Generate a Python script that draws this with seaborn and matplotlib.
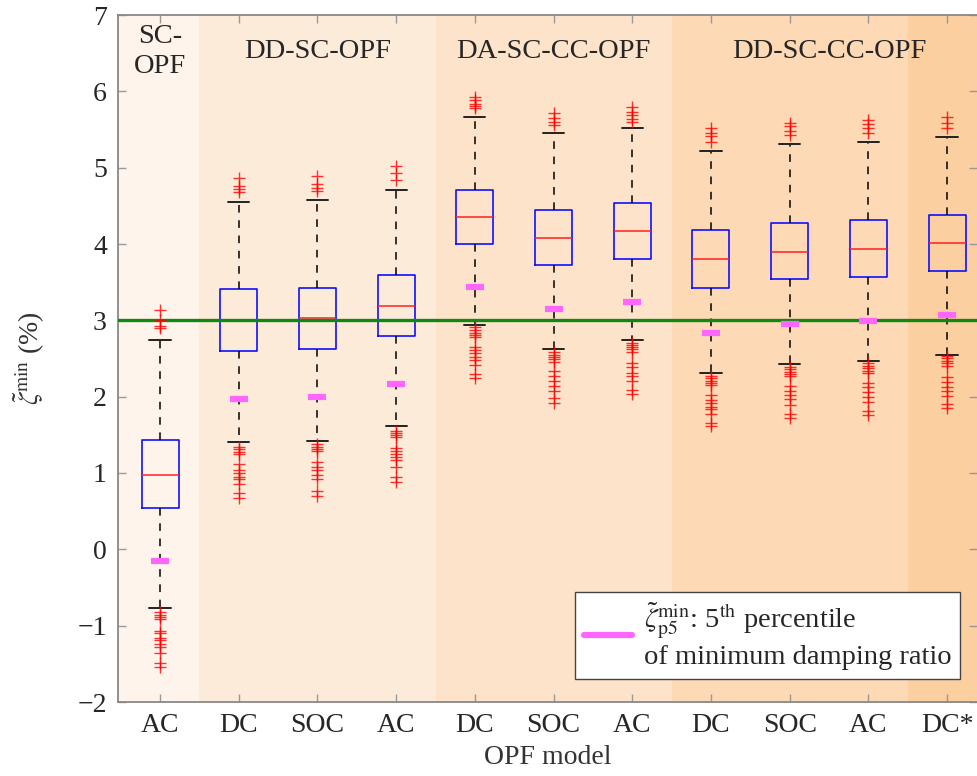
import numpy as np
import pandas as pd
import matplotlib
matplotlib.use("Agg")
import matplotlib.pyplot as plt
import seaborn as sns

# ---------------- data ----------------
categories = ["AC", "DC", "SOC", "AC", "DC", "SOC", "AC", "DC", "SOC", "AC", "DC*"]
q1 = [0.54, 2.60, 2.63, 2.80, 4.00, 3.72, 3.81, 3.43, 3.54, 3.57, 3.65]
med = [0.97, 3.00, 3.03, 3.19, 4.35, 4.08, 4.17, 3.80, 3.90, 3.94, 4.01]
q3 = [1.43, 3.41, 3.43, 3.59, 4.71, 4.45, 4.54, 4.18, 4.28, 4.31, 4.38]
whisk_lo = [-0.77, 1.40, 1.42, 1.61, 2.94, 2.63, 2.74, 2.31, 2.43, 2.47, 2.55]
whisk_hi = [2.74, 4.55, 4.57, 4.71, 5.67, 5.45, 5.52, 5.22, 5.31, 5.34, 5.40]
p5 = [-0.15, 1.97, 2.00, 2.17, 3.44, 3.15, 3.24, 2.84, 2.95, 2.99, 3.07]

outliers_hi = [
    [3.13, 3.01, 2.93, 2.90],
    [4.86, 4.76, 4.72, 4.68],
    [4.89, 4.79, 4.74, 4.70],
    [5.02, 4.93, 4.84],
    [5.93, 5.89, 5.84, 5.81, 5.78],
    [5.71, 5.65, 5.60, 5.56],
    [5.79, 5.73, 5.69, 5.64, 5.60],
    [5.52, 5.46, 5.41, 5.34],
    [5.59, 5.54, 5.48, 5.43],
    [5.62, 5.57, 5.52, 5.46],
    [5.66, 5.59, 5.52],
]
outliers_lo = [
    [-0.825, -0.86, -0.89, -0.917, -1.066, -1.10, -1.158, -1.188, -1.244, -1.276, -1.354, -1.485, -1.545],
    [1.345, 1.315, 1.279, 1.249, 1.118, 1.039, 0.996, 0.952, 0.921, 0.852, 0.734, 0.669],
    [1.376, 1.345, 1.315, 1.292, 1.148, 1.075, 1.039, 0.974, 0.918, 0.764, 0.699],
    [1.555, 1.528, 1.498, 1.476, 1.324, 1.288, 1.249, 1.214, 1.170, 1.075, 0.952, 0.886],
    [2.917, 2.874, 2.838, 2.808, 2.778, 2.655, 2.612, 2.568, 2.516, 2.481, 2.415, 2.297, 2.249],
    [2.58, 2.55, 2.52, 2.49, 2.46, 2.33, 2.27, 2.20, 2.14, 2.08, 1.98, 1.92],
    [2.707, 2.677, 2.647, 2.621, 2.589, 2.445, 2.385, 2.314, 2.271, 2.209, 2.088, 2.035],
    [2.271, 2.241, 2.209, 2.175, 2.153, 2.022, 1.957, 1.913, 1.869, 1.835, 1.769, 1.651, 1.616],
    [2.393, 2.359, 2.327, 2.297, 2.271, 2.140, 2.078, 2.022, 1.966, 1.891, 1.773, 1.717],
    [2.437, 2.402, 2.372, 2.340, 2.314, 2.183, 2.123, 2.065, 2.000, 1.934, 1.816, 1.760],
    [2.533, 2.503, 2.467, 2.437, 2.406, 2.262, 2.196, 2.131, 2.078, 2.013, 1.900, 1.848],
]
threshold = 3.0

group_names = ["SC-\nOPF", "DD-SC-OPF", "DA-SC-CC-OPF", "DD-SC-CC-OPF", ""]
group_spans = [(-1.0, 0.5), (0.5, 3.5), (3.5, 6.5), (6.5, 9.5), (9.5, 11.0)]
group_label_x = [0, 2, 5, 8.5, None]
group_colors = ["#FEF4EB", "#FDEBDA", "#FDE3CA", "#FDD9B5", "#FCCFA0"]

ylabel = r"$\tilde{\zeta}^{\min}$ (%)"
xlabel = "OPF model"
legend_label = r"$\tilde{\zeta}^{\min}_{\mathrm{p5}}$: 5$^{\mathrm{th}}$ percentile" + "\nof minimum damping ratio"

# ---------------- style ----------------
sns.set_style("ticks")
plt.rcParams["font.family"] = ["Liberation Serif", "DejaVu Serif"]
plt.rcParams["mathtext.fontset"] = "stix"
plt.rcParams["axes.unicode_minus"] = True

fig = plt.figure(figsize=(9.77, 7.76), dpi=100)
ax = fig.add_axes([118 / 977, 74 / 776, 859 / 977, 687 / 776])

positions = np.arange(len(categories))

# background bands
for (a, b), c in zip(group_spans, group_colors):
    ax.axvspan(a, b, color=c, zorder=0, lw=0)

# threshold line
ax.axhline(threshold, color="#118811", lw=2.4, zorder=3)

# boxes
stats = []
for i in range(len(categories)):
    stats.append(dict(med=med[i], q1=q1[i], q3=q3[i], whislo=whisk_lo[i],
                      whishi=whisk_hi[i], fliers=[], label=categories[i]))
ax.bxp(stats, positions=positions, widths=0.47, capwidths=0.27,
       showfliers=False, patch_artist=False, manage_ticks=False,
       boxprops=dict(color="#1010ff", lw=1.2),
       whiskerprops=dict(color="black", lw=1.1, linestyle=(0, (5, 5))),
       capprops=dict(color="#222222", lw=1.4),
       medianprops=dict(color="#ff2020", lw=1.1),
       zorder=2)

# outliers
xs, ys = [], []
for i in range(len(categories)):
    for v in outliers_hi[i] + outliers_lo[i]:
        xs.append(positions[i])
        ys.append(v)
out_df = pd.DataFrame({"x": xs, "y": ys})
sns.scatterplot(data=out_df, x="x", y="y", marker="+", s=80, color="#ff0000",
                linewidth=1.0, alpha=0.8, ax=ax, zorder=4, legend=False)

# 5th percentile markers
p5_df = pd.DataFrame({"x": positions, "y": p5})
sns.scatterplot(data=p5_df, x="x", y="y", marker="_", s=150, color="#ff66ff",
                linewidth=4.5, ax=ax, zorder=5, legend=False)

# group labels
for name, gx in zip(group_names, group_label_x):
    if gx is None:
        continue
    ax.text(gx, 6.52, name, ha="center", va="center", fontsize=20.5,
            linespacing=1.25, zorder=6)

# axes
ax.set_xlim(-0.534, 10.38)
ax.set_ylim(-2, 7)
ax.set_xticks(positions)
ax.set_xticklabels(categories, fontsize=20)
ax.set_yticks(np.arange(-2, 8, 1))
ax.tick_params(axis="y", labelsize=20)
ax.tick_params(direction="in", length=6, color="#999999", top=True, right=True,
               width=1, pad=8)
for s in ["left", "bottom", "top"]:
    ax.spines[s].set_color("#888888")
    ax.spines[s].set_linewidth(1.3)
ax.spines["right"].set_visible(False)

ax.set_xlabel(xlabel, fontsize=20, color="#333333")
ax.set_ylabel(ylabel, fontsize=20, color="#333333")
ax.xaxis.set_label_coords(0.5, -0.063)
ax.yaxis.set_label_coords(-0.083, 0.5)

# legend
handle = plt.Line2D([0], [0], color="#ff66ff", lw=4.5)
leg = ax.legend([handle], [legend_label], loc="lower right",
                bbox_to_anchor=(0.98, 0.034), borderaxespad=0, fontsize=20.5,
                frameon=True, fancybox=False, framealpha=1, edgecolor="#444444",
                handlelength=1.7, handletextpad=0.4, borderpad=0.3,
                labelspacing=0.2)
leg.get_frame().set_linewidth(1.0)
leg.set_zorder(10)

fig.savefig("out.png", dpi=100)
